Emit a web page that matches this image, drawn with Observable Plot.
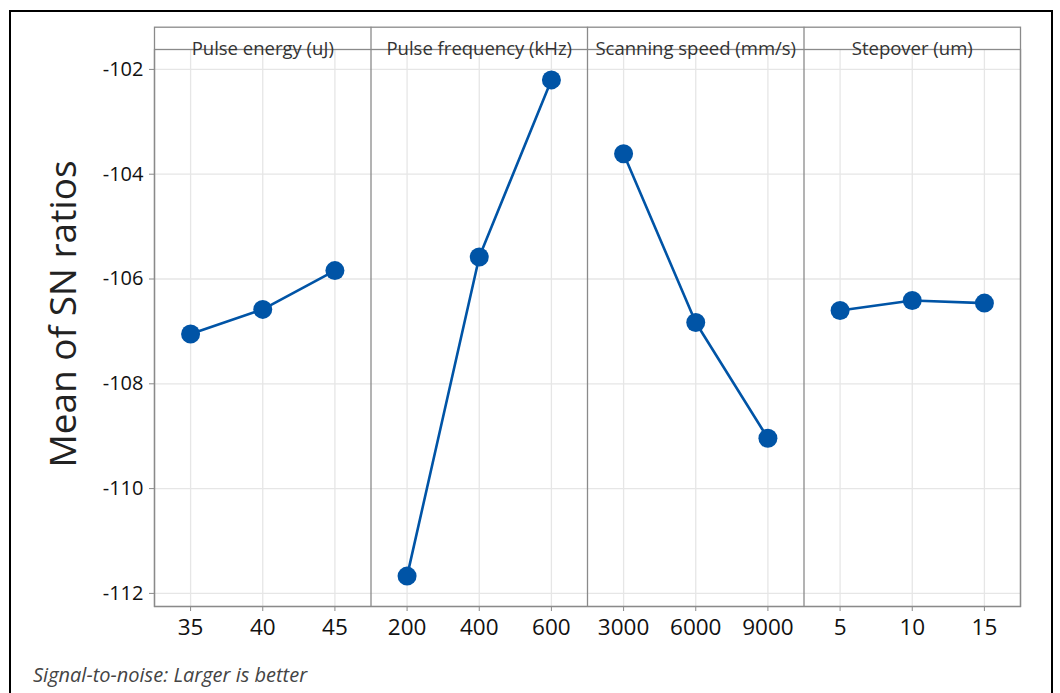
<!DOCTYPE html>
<html>
<head>
<meta charset="utf-8">
<script src="https://cdn.jsdelivr.net/npm/d3@7"></script>
<script src="https://cdn.jsdelivr.net/npm/@observablehq/plot@0.6"></script>
<style>
  html, body { margin: 0; padding: 0; background: #fff; }
  #page { position: relative; width: 1060px; height: 693px; overflow: hidden; background: #fff; font-family: "Open Sans", sans-serif; }
  #border { position: absolute; left: 9px; top: 10px; width: 1040px; height: 720px; border: 2px solid #000; }
  #chart { position: absolute; left: 0; top: 0; }
  #caption { position: absolute; left: 33px; top: 665px; font-style: italic; font-size: 20px; line-height: 20px; color: #444; }
</style>
</head>
<body>
<div id="page">
  <div id="border"></div>
  <div id="chart"></div>
  <div id="caption">Signal-to-noise: Larger is better</div>
</div>
<script>
// Main effects plot for SN ratios: one panel per control factor
const factors = ["Pulse energy (uJ)", "Pulse frequency (kHz)", "Scanning speed (mm/s)", "Stepover (um)"];
const levels = [
  ["35", "40", "45"],
  ["200", "400", "600"],
  ["3000", "6000", "9000"],
  ["5", "10", "15"]
];
const snMeans = [
  [-107.05, -106.58, -105.84],
  [-111.67, -105.58, -102.20],
  [-103.61, -106.83, -109.04],
  [-106.60, -106.41, -106.46]
];
const yTicks = [-112, -110, -108, -106, -104, -102];
const yLabel = "Mean of SN ratios";

// Flatten into rows; each level gets its own slot along x, grouped by factor
const rows = [];
factors.forEach((f, fi) => {
  levels[fi].forEach((lv, li) => {
    rows.push({factor: f, level: lv, slot: fi * levels[fi].length + li, mean: snMeans[fi][li]});
  });
});
const slots = rows.map(d => d.slot);
const slotLabel = new Map(rows.map(d => [d.slot, d.level]));
const perFactor = levels[0].length;
const dividers = factors.slice(1).map((_, i) => (i + 1) * perFactor - 0.5);
const headerPos = factors.map((_, i) => i * perFactor + (perFactor - 1) / 2);

const blue = "#0054a6";
const frameGray = "#8a8a8a";
const gridGray = "#e6e6e6";
const headerH = 22.3;

const chart = Plot.plot({
  width: 1060,
  height: 650,
  marginLeft: 154,
  marginRight: 40,
  marginTop: 49,
  marginBottom: 44,
  style: {fontFamily: "Open Sans, sans-serif", background: "transparent", color: "#111"},
  x: {type: "linear", domain: [-0.5, slots.length - 0.5]},
  y: {domain: [-112.25, -101.62]},
  marks: [
    Plot.ruleY(yTicks, {stroke: gridGray, strokeWidth: 1.3}),
    Plot.ruleX(slots, {stroke: gridGray, strokeWidth: 1.3}),
    Plot.axisY({ticks: yTicks, tickFormat: d => String(d), tickSize: 5, tickPadding: 6, fontSize: 20, stroke: frameGray, fill: "#111", label: null}),
    Plot.axisX({ticks: slots, tickFormat: d => slotLabel.get(d), tickSize: 5, tickPadding: 8, fontSize: 22.5, stroke: frameGray, fill: "#111", label: null}),
    Plot.frame({stroke: frameGray, strokeWidth: 1.3, insetTop: -headerH}),
    Plot.frame({stroke: frameGray, strokeWidth: 1.3}),
    Plot.ruleX(dividers, {stroke: frameGray, strokeWidth: 1.3, insetTop: -headerH}),
    Plot.text(factors, {x: (d, i) => headerPos[i], text: d => d, frameAnchor: "top", dy: -7.5, fontSize: 18.5, fill: "#333"}),
    Plot.text([yLabel], {text: d => d, frameAnchor: "left", textAnchor: "middle", dx: -90, dy: -14, rotate: -90, fontSize: 37, fill: "#222"}),
    Plot.lineY(rows, {x: "slot", y: "mean", z: "factor", stroke: blue, strokeWidth: 2.6}),
    Plot.dot(rows, {x: "slot", y: "mean", r: 9.5, fill: blue, stroke: "none"})
  ]
});
document.getElementById("chart").appendChild(chart);
</script>
</body>
</html>
